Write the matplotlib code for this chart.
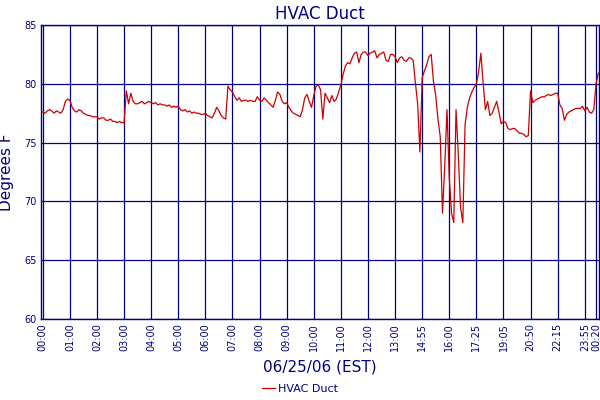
import matplotlib
matplotlib.use('Agg')
import matplotlib.pyplot as plt
import numpy as np

# temperature readings, 12 samples between labelled ticks
seg0 = [77.6, 77.5, 77.7, 77.8, 77.7, 77.5, 77.7, 77.6, 77.5, 77.8, 78.5, 78.7]
seg1 = [78.6, 78.0, 77.7, 77.6, 77.8, 77.7, 77.5, 77.4, 77.3, 77.3, 77.2, 77.2]
seg2 = [77.2, 77.0, 77.1, 77.1, 76.9, 76.9, 77.0, 76.8, 76.8, 76.7, 76.8, 76.7]
seg3 = [76.7, 79.4, 78.3, 79.2, 78.5, 78.3, 78.3, 78.4, 78.5, 78.3, 78.4, 78.5]
seg4 = [78.4, 78.3, 78.4, 78.2, 78.3, 78.2, 78.2, 78.1, 78.2, 78.0, 78.1, 78.0]
seg5 = [78.1, 77.8, 77.7, 77.8, 77.6, 77.7, 77.5, 77.6, 77.5, 77.5, 77.4, 77.4]
seg6 = [77.5, 77.3, 77.2, 77.1, 77.5, 78.0, 77.7, 77.3, 77.1, 77.0, 79.8, 79.5]
seg7 = [79.3, 78.9, 78.6, 78.8, 78.5, 78.6, 78.6, 78.5, 78.6, 78.5, 78.5, 78.9]
seg8 = [78.6, 78.5, 78.8, 78.6, 78.4, 78.2, 78.0, 78.6, 79.3, 79.1, 78.5, 78.3]
seg9 = [78.4, 78.0, 77.7, 77.5, 77.4, 77.3, 77.2, 77.8, 78.8, 79.1, 78.5, 78.0]
seg10 = [79.0, 79.8, 79.9, 79.5, 77.0, 79.2, 78.8, 78.4, 79.0, 78.5, 78.7, 79.3]
seg11 = [79.9, 80.8, 81.5, 81.8, 81.7, 82.2, 82.6, 82.7, 81.8, 82.5, 82.7, 82.7]
seg12 = [82.4, 82.6, 82.7, 82.8, 82.2, 82.5, 82.6, 82.7, 82.0, 81.9, 82.5, 82.5]
seg13 = [82.3, 81.8, 82.2, 82.3, 82.0, 81.9, 82.2, 82.2, 82.0, 80.1, 78.3, 74.2]
seg14 = [80.5, 81.1, 81.6, 82.3, 82.5, 80.2, 79.0, 77.0, 75.5, 69.0, 73.0, 77.8]
seg15 = [72.0, 69.0, 68.2, 77.8, 74.0, 69.5, 68.2, 76.5, 78.0, 78.8, 79.3, 79.7]
seg16 = [80.0, 81.0, 82.6, 80.1, 77.8, 78.5, 77.3, 77.5, 78.0, 78.5, 77.6, 76.6]
seg17 = [76.8, 76.7, 76.2, 76.1, 76.2, 76.2, 76.0, 75.8, 75.8, 75.7, 75.5, 75.6]
seg18 = [79.4, 78.4, 78.6, 78.7, 78.8, 78.9, 78.9, 79.0, 79.1, 79.0, 79.1, 79.2]
seg19 = [79.2, 78.2, 77.9, 76.9, 77.4, 77.6, 77.7, 77.8, 77.9, 77.9, 77.9, 78.1]
seg20 = [77.7, 78.0, 77.6, 77.5, 77.8, 80.0, 80.9]

temps = (seg0 + seg1 + seg2 + seg3 + seg4 + seg5 + seg6 + seg7 + seg8 + seg9 + seg10
         + seg11 + seg12 + seg13 + seg14 + seg15 + seg16 + seg17 + seg18 + seg19 + seg20)

tick_labels = ['00:00', '01:00', '02:00', '03:00', '04:00', '05:00', '06:00', '07:00',
               '08:00', '09:00', '10:00', '11:00', '12:00', '13:00', '14:55', '16:00',
               '17:25', '19:05', '20:50', '22:15', '23:55', '00:20']
tick_pos = list(range(0, 241, 12)) + [245]

navy = '#000080'
fig = plt.figure(figsize=(6, 4), dpi=100)
ax = fig.add_axes([0.0683, 0.2025, 0.93, 0.735])

ax.plot(np.arange(len(temps)), temps, color='#cc0000', lw=0.9, label='HVAC Duct')

ax.set_xlim(-0.8, 246.3)
ax.set_ylim(60, 85)
ax.set_yticks([60, 65, 70, 75, 80, 85])
ax.set_xticks(tick_pos)
ax.set_xticklabels(tick_labels, rotation=90)
ax.tick_params(length=0, labelsize=7, labelcolor=navy, pad=3)
ax.grid(True, color=navy, lw=0.9)
for s in ax.spines.values():
    s.set_color(navy)
    s.set_linewidth(1)

ax.set_title('HVAC Duct', color=navy, fontsize=12, pad=4)
ax.set_ylabel('Degrees F', color=navy, fontsize=11)
ax.yaxis.set_label_coords(-0.048, 0.5)
ax.set_xlabel('06/25/06 (EST)', color=navy, fontsize=11, labelpad=6)

leg = fig.legend(loc='lower center', bbox_to_anchor=(0.5, -0.01), frameon=False,
                 fontsize=8, handlelength=1.2, handletextpad=0.3)
for t in leg.get_texts():
    t.set_color(navy)

fig.savefig('out.png', dpi=100)
